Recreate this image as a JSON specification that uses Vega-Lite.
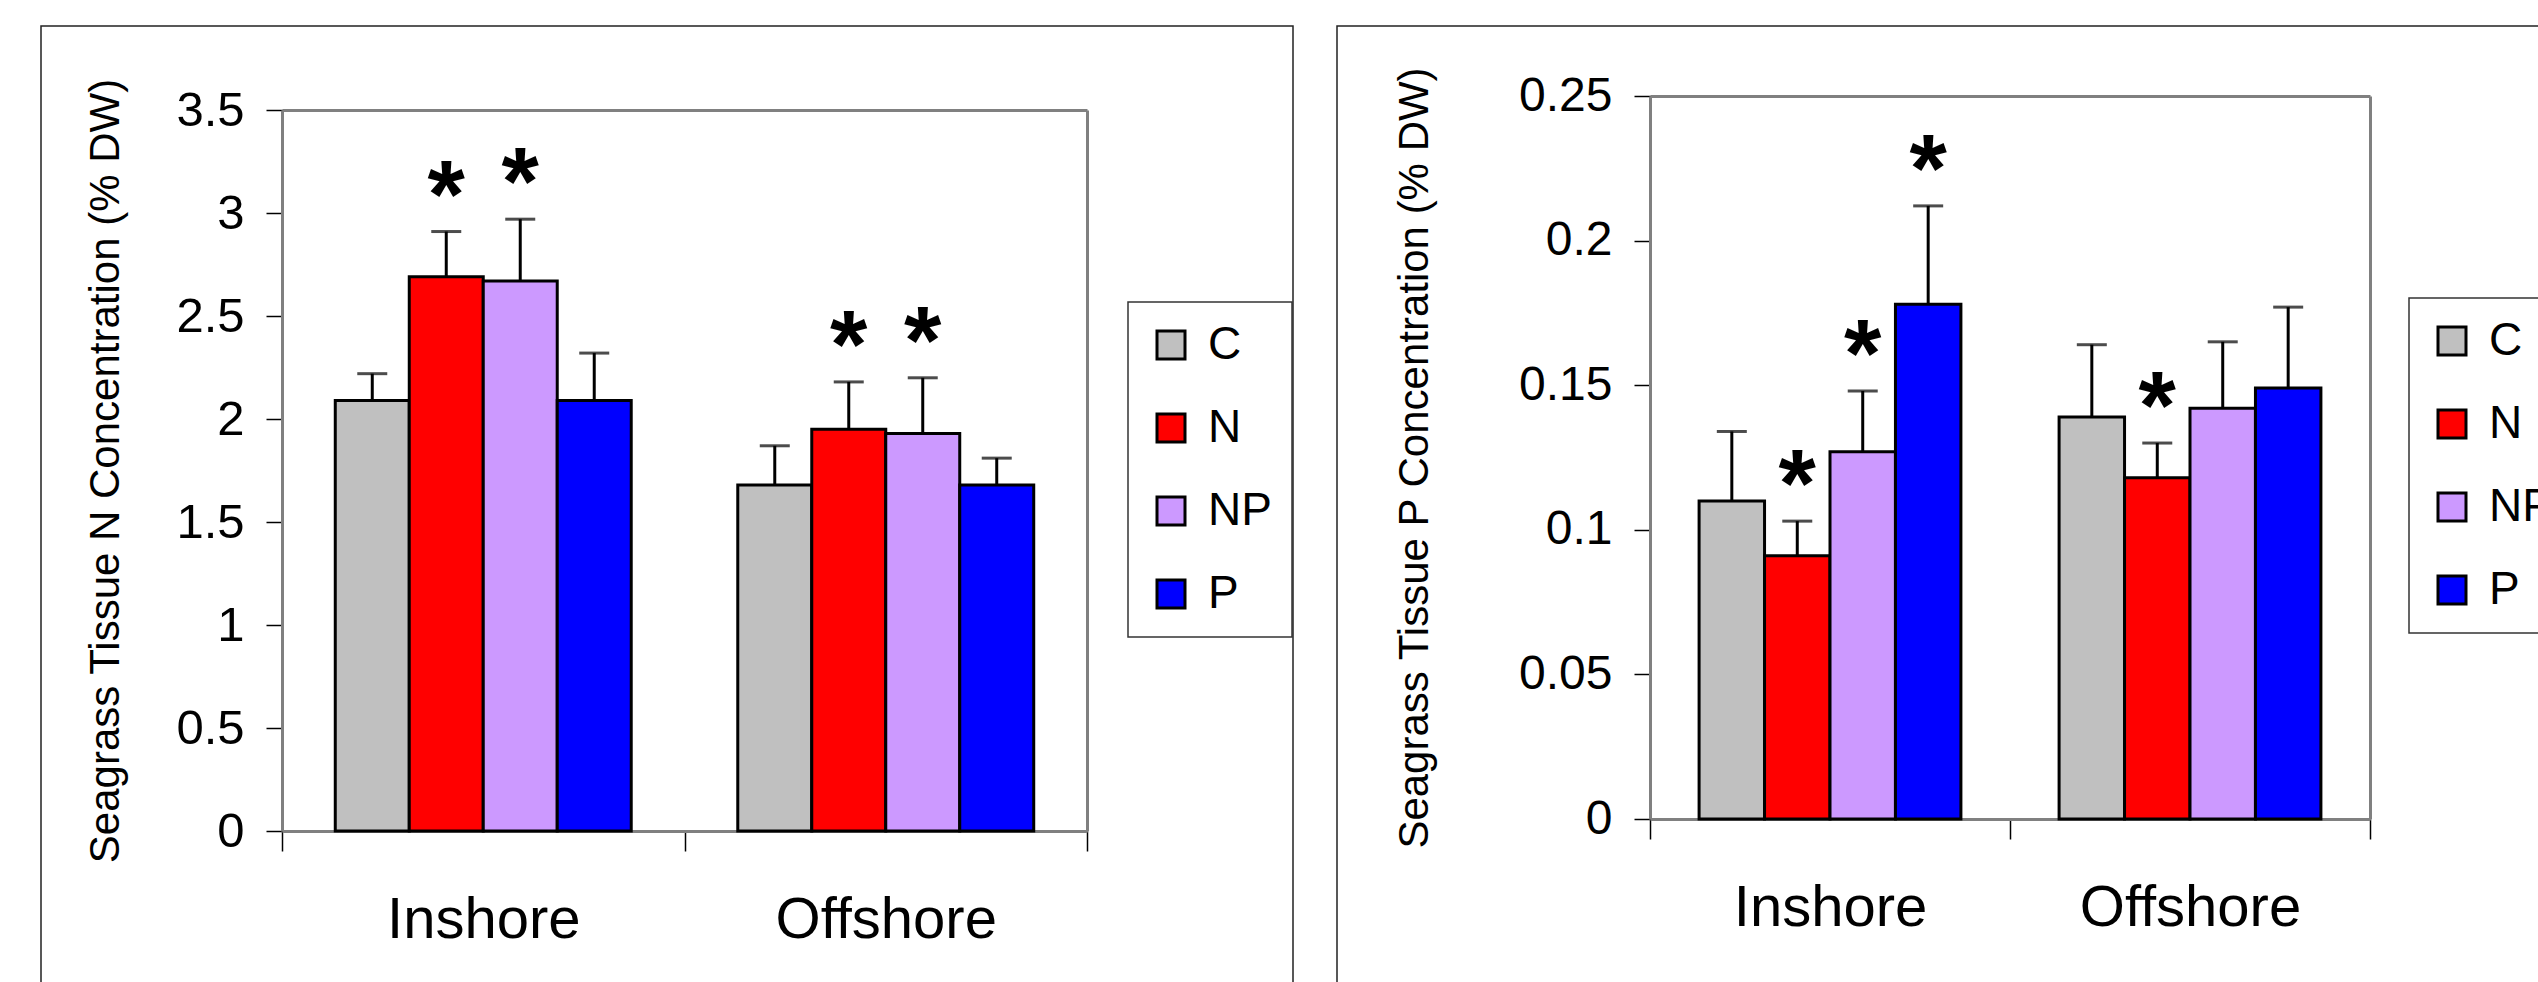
{
  "$schema": "https://vega.github.io/schema/vega-lite/v6.json",
  "padding": {"left": 40, "top": 25, "right": 0, "bottom": 0},
  "background": "white",
  "bounds": "flush",
  "spacing": 44,
  "datasets": {
    "tissueN": [
      {"Site": "Inshore", "Treatment": "C", "Mean": 2.09, "Upper": 2.22, "Star": ""},
      {"Site": "Inshore", "Treatment": "N", "Mean": 2.69, "Upper": 2.91, "Star": "*"},
      {"Site": "Inshore", "Treatment": "NP", "Mean": 2.67, "Upper": 2.97, "Star": "*"},
      {"Site": "Inshore", "Treatment": "P", "Mean": 2.09, "Upper": 2.32, "Star": ""},
      {"Site": "Offshore", "Treatment": "C", "Mean": 1.68, "Upper": 1.87, "Star": ""},
      {"Site": "Offshore", "Treatment": "N", "Mean": 1.95, "Upper": 2.18, "Star": "*"},
      {"Site": "Offshore", "Treatment": "NP", "Mean": 1.93, "Upper": 2.2, "Star": "*"},
      {"Site": "Offshore", "Treatment": "P", "Mean": 1.68, "Upper": 1.81, "Star": ""}
    ],
    "tissueP": [
      {"Site": "Inshore", "Treatment": "C", "Mean": 0.11, "Upper": 0.134, "Star": ""},
      {"Site": "Inshore", "Treatment": "N", "Mean": 0.091, "Upper": 0.103, "Star": "*"},
      {"Site": "Inshore", "Treatment": "NP", "Mean": 0.127, "Upper": 0.148, "Star": "*"},
      {"Site": "Inshore", "Treatment": "P", "Mean": 0.178, "Upper": 0.212, "Star": "*"},
      {"Site": "Offshore", "Treatment": "C", "Mean": 0.139, "Upper": 0.164, "Star": ""},
      {"Site": "Offshore", "Treatment": "N", "Mean": 0.118, "Upper": 0.13, "Star": "*"},
      {"Site": "Offshore", "Treatment": "NP", "Mean": 0.142, "Upper": 0.165, "Star": ""},
      {"Site": "Offshore", "Treatment": "P", "Mean": 0.149, "Upper": 0.177, "Star": ""}
    ]
  },
  "hconcat": [
    {
      "width": 1252,
      "height": 1000,
      "data": {"name": "tissueN"},
      "layer": [
        {
          "mark": {"type": "bar", "stroke": "black", "strokeWidth": 3},
          "encoding": {
            "x": {
              "field": "Site", "type": "nominal", "sort": ["Inshore", "Offshore"],
              "scale": {"range": [241, 1046], "paddingInner": 0, "paddingOuter": 0},
              "axis": {"orient": "bottom", "offset": -195, "title": null, "labelAngle": 0, "labelFontSize": 58, "labelPadding": 40, "labelLimit": 0, "tickSize": 20, "tickBand": "extent"}
            },
            "xOffset": {"field": "Treatment", "type": "nominal", "sort": ["C", "N", "NP", "P"], "scale": {"paddingInner": 0, "paddingOuter": 0.72}},
            "y": {
              "field": "Mean", "type": "quantitative",
              "scale": {"domain": [0, 3.5], "range": [805, 84], "nice": false},
              "axis": {"orient": "left", "offset": -241, "values": [0, 0.5, 1, 1.5, 2, 2.5, 3, 3.5], "format": "~g", "labelFontSize": 49, "labelPadding": 22, "tickSize": 16, "title": "Seagrass Tissue N Concentration (% DW)", "titlePadding": 48}
            },
            "color": {
              "field": "Treatment", "type": "nominal",
              "scale": {"domain": ["C", "N", "NP", "P"], "range": ["#C0C0C0", "#FF0000", "#CC99FF", "#0000FF"]},
              "legend": {"orient": "none", "legendX": 1087, "legendY": 276}
            }
          }
        },
        {
          "mark": {"type": "rule", "color": "black", "strokeWidth": 3},
          "encoding": {
            "x": {"field": "Site", "type": "nominal", "sort": ["Inshore", "Offshore"], "axis": {"orient": "top", "offset": -84, "labels": false, "ticks": false, "title": null, "domainColor": "#808080"}},
            "xOffset": {"field": "Treatment", "type": "nominal", "sort": ["C", "N", "NP", "P"]},
            "y": {"field": "Mean", "type": "quantitative", "axis": {"orient": "right", "offset": -206, "labels": false, "ticks": false, "title": null, "domainColor": "#808080"}},
            "y2": {"field": "Upper"}
          }
        },
        {
          "mark": {"type": "tick", "color": "black", "thickness": 3, "size": 30, "orient": "horizontal"},
          "encoding": {
            "x": {"field": "Site", "type": "nominal", "sort": ["Inshore", "Offshore"], "axis": null},
            "xOffset": {"field": "Treatment", "type": "nominal", "sort": ["C", "N", "NP", "P"]},
            "y": {"field": "Upper", "type": "quantitative", "axis": null}
          }
        },
        {
          "mark": {"type": "text", "fontSize": 96, "fontWeight": "bold", "align": "center", "baseline": "alphabetic", "dy": -5, "color": "black"},
          "encoding": {
            "x": {"field": "Site", "type": "nominal", "sort": ["Inshore", "Offshore"], "axis": null},
            "xOffset": {"field": "Treatment", "type": "nominal", "sort": ["C", "N", "NP", "P"]},
            "y": {"field": "Upper", "type": "quantitative", "axis": null},
            "text": {"field": "Star"}
          }
        }
      ],
      "resolve": {"axis": {"x": "independent", "y": "independent"}}
    },
    {
      "width": 1300,
      "height": 1000,
      "data": {"name": "tissueP"},
      "layer": [
        {
          "mark": {"type": "bar", "stroke": "black", "strokeWidth": 3},
          "encoding": {
            "x": {
              "field": "Site", "type": "nominal", "sort": ["Inshore", "Offshore"],
              "scale": {"range": [313, 1033], "paddingInner": 0, "paddingOuter": 0},
              "axis": {"orient": "bottom", "offset": -207, "title": null, "labelAngle": 0, "labelFontSize": 58, "labelPadding": 40, "labelLimit": 0, "tickSize": 20, "tickBand": "extent"}
            },
            "xOffset": {"field": "Treatment", "type": "nominal", "sort": ["C", "N", "NP", "P"], "scale": {"paddingInner": 0, "paddingOuter": 0.75}},
            "y": {
              "field": "Mean", "type": "quantitative",
              "scale": {"domain": [0, 0.25], "range": [793, 70], "nice": false},
              "axis": {"orient": "left", "offset": -313, "values": [0, 0.05, 0.1, 0.15, 0.2, 0.25], "format": "~g", "labelFontSize": 48, "labelPadding": 22, "tickSize": 16, "title": "Seagrass Tissue P Concentration (% DW)", "titlePadding": 82}
            },
            "color": {
              "field": "Treatment", "type": "nominal",
              "scale": {"domain": ["C", "N", "NP", "P"], "range": ["#C0C0C0", "#FF0000", "#CC99FF", "#0000FF"]},
              "legend": {"orient": "none", "legendX": 1072, "legendY": 272}
            }
          }
        },
        {
          "mark": {"type": "rule", "color": "black", "strokeWidth": 3},
          "encoding": {
            "x": {"field": "Site", "type": "nominal", "sort": ["Inshore", "Offshore"], "axis": {"orient": "top", "offset": -70, "labels": false, "ticks": false, "title": null, "domainColor": "#808080"}},
            "xOffset": {"field": "Treatment", "type": "nominal", "sort": ["C", "N", "NP", "P"]},
            "y": {"field": "Mean", "type": "quantitative", "axis": {"orient": "right", "offset": -267, "labels": false, "ticks": false, "title": null, "domainColor": "#808080"}},
            "y2": {"field": "Upper"}
          }
        },
        {
          "mark": {"type": "tick", "color": "black", "thickness": 3, "size": 30, "orient": "horizontal"},
          "encoding": {
            "x": {"field": "Site", "type": "nominal", "sort": ["Inshore", "Offshore"], "axis": null},
            "xOffset": {"field": "Treatment", "type": "nominal", "sort": ["C", "N", "NP", "P"]},
            "y": {"field": "Upper", "type": "quantitative", "axis": null}
          }
        },
        {
          "mark": {"type": "text", "fontSize": 96, "fontWeight": "bold", "align": "center", "baseline": "alphabetic", "dy": -5, "color": "black"},
          "encoding": {
            "x": {"field": "Site", "type": "nominal", "sort": ["Inshore", "Offshore"], "axis": null},
            "xOffset": {"field": "Treatment", "type": "nominal", "sort": ["C", "N", "NP", "P"]},
            "y": {"field": "Upper", "type": "quantitative", "axis": null},
            "text": {"field": "Star"}
          }
        }
      ],
      "resolve": {"axis": {"x": "independent", "y": "independent"}}
    }
  ],
  "resolve": {
    "scale": {"x": "independent", "y": "independent", "xOffset": "independent", "color": "independent"},
    "legend": {"color": "independent"}
  },
  "config": {
    "font": "Liberation Sans",
    "view": {"stroke": "#222222", "strokeWidth": 1.5},
    "axis": {
      "grid": false,
      "domainColor": "#808080",
      "domainWidth": 3,
      "tickColor": "black",
      "tickWidth": 1.5,
      "labelColor": "black",
      "labelFont": "Liberation Sans",
      "titleFont": "Liberation Sans",
      "titleFontSize": 42,
      "titleFontWeight": "normal",
      "titleColor": "black",
      "labelOverlap": false
    },
    "legend": {
      "title": null,
      "strokeColor": "#333333",
      "strokeWidth": 1.5,
      "fillColor": "white",
      "padding": 20,
      "symbolType": "square",
      "symbolSize": 784,
      "symbolStrokeColor": "black",
      "symbolStrokeWidth": 3,
      "symbolOpacity": 1,
      "labelFontSize": 46,
      "labelFont": "Liberation Sans",
      "labelColor": "black",
      "labelOffset": 14,
      "rowPadding": 37
    }
  }
}
